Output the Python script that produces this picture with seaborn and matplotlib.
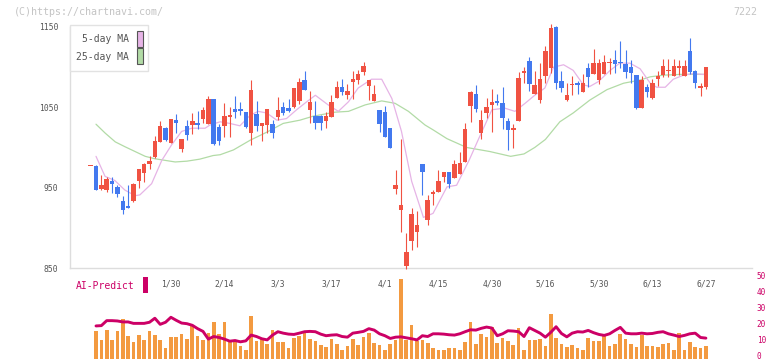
import numpy as np
import matplotlib
matplotlib.use("Agg")
import matplotlib.pyplot as plt
import matplotlib.transforms as mtransforms
import seaborn as sns
from matplotlib.patches import Rectangle

sns.set_style("white")
plt.rcParams["font.family"] = ["DejaVu Sans Mono"]

# daily candles; the first one is the lone red dash left of the first volume bar
opens = [977, 977.5, 948, 947, 958, 951, 933.5, 927.5, 934, 958, 968.5, 980, 988, 1007, 1024, 1006, 1034, 998.5, 1027, 1028.5,
         1030.5, 1035.5, 1029, 1060.4, 1025.5, 1027, 1038.5, 1048, 1048, 1044.2, 1018, 1041.7, 1027, 1028, 1029.3, 1038, 1050.4,
         1049.2, 1050.4, 1057.9, 1084, 1046.7, 1039.2, 1039.2, 1033, 1038, 1061.6, 1075.3, 1065.3, 1081.5, 1084, 1094, 1076.6,
         1057.9, 1046.7, 1044.2, 1024.3, 948.3, 922.2, 852.5, 883.6, 894.8, 979.5, 909.7, 942.5, 944.6, 963.3, 969.5, 962, 967,
         982.3, 1052, 1066.6, 1018.4, 1043.3, 1053.3, 1057.9, 1055.4, 1033, 1022.2, 1033.4, 1093, 1107.7, 1066.6, 1059.1, 1089,
         1099, 1150, 1082.8, 1059.1, 1077.8, 1080.3, 1069.5, 1099, 1091.5, 1084, 1091.5, 1104.6, 1109, 1106.4, 1103.9, 1100.2,
         1090.2, 1049.2, 1075.3, 1061.6, 1085.3, 1090.2, 1095.2, 1089, 1099.4, 1089, 1120.1, 1095.2, 1074.5, 1075.3]
highs = [977.5, 978, 966, 963, 963, 953, 939.5, 953, 956, 973, 981, 990, 1014, 1033, 1025, 1035.5, 1041.5, 1010, 1034, 1043,
         1045, 1051, 1064, 1060.4, 1029, 1055.4, 1050.8, 1064, 1056.6, 1044.2, 1084, 1057.9, 1030.5, 1048, 1034.3, 1062.9, 1056.6,
         1060.4, 1074, 1086.5, 1095.2, 1070.3, 1058, 1040.5, 1044.2, 1065.3, 1082.8, 1085.3, 1079, 1095.2, 1096.5, 1106.4, 1084,
         1077.8, 1046.7, 1051.7, 1024.3, 972, 1010.6, 893.6, 924.7, 921, 979.5, 940.9, 947, 972, 969.5, 969.5, 984.4, 994.4,
         1030.5, 1070.3, 1077.8, 1046.7, 1061.6, 1072.8, 1066.6, 1075.3, 1037, 1029.6, 1094.4, 1100.6, 1112.7, 1095.2, 1105.2, 1126.3,
         1153.7, 1151, 1095.6, 1079.9, 1089, 1082.8, 1091.5, 1105.2, 1122.6, 1110.2, 1115.1, 1111.4, 1121.4, 1132.6, 1121.4, 1108.9,
         1090.2, 1089, 1079, 1085.3, 1095.2, 1110.2, 1110.2, 1110.2, 1108.9, 1108.9, 1136.3, 1096.5, 1080.3, 1100.2]
lows = [976.5, 947, 947, 945, 943, 939, 917.5, 925, 932.5, 950, 957, 973, 987.5, 1006.5, 1008, 1006, 1018, 995, 1009, 1017,
        1023, 1030, 1029, 1003.5, 1003.5, 1013.4, 1012.6, 1036.7, 1040.5, 1024.3, 1003, 1020.5, 1008, 1018, 1011.8, 1034.3, 1040,
        1044.2, 1049.2, 1054.1, 1071.6, 1030.5, 1023, 1021.8, 1024.3, 1038, 1061.6, 1065.3, 1060.4, 1060.4, 1079, 1090.2, 1059.1,
        1057.9, 1019.3, 1013, 999.4, 942, 894.8, 848.8, 872.4, 876.1, 941, 903.5, 928.4, 944.6, 957, 950, 962, 967,
        982.3, 1032, 1044.6, 1011, 1037, 1019.7, 1052.9, 1023.4, 997.3, 999.7, 1033.4, 1080.3, 1070.3, 1066.6, 1055, 1080,
        1092.7, 1073.2, 1069.1, 1058.3, 1065.3, 1066.6, 1068.7, 1075.3, 1091.5, 1079, 1091.5, 1091.5, 1092.7, 1099, 1086.5, 1080.3,
        1048, 1049.2, 1062.9, 1060.4, 1076.6, 1087.8, 1087.8, 1089, 1090.2, 1089, 1091.5, 1074.1, 1064.1, 1072.8]
closes = [977, 947.5, 953, 961, 955, 942.5, 922.5, 925, 954.5, 973, 980, 983, 1008, 1027, 1009, 1035.5, 1031, 1010, 1015, 1033,
          1028.5, 1046.7, 1060.4, 1004.7, 1008, 1039.2, 1039.2, 1044.2, 1045.5, 1025.5, 1071.6, 1026.8, 1030.5, 1048, 1018, 1046.7,
          1043, 1045.5, 1074, 1081.5, 1071.6, 1056.6, 1030.5, 1030.5, 1039.2, 1056.6, 1075.3, 1069, 1070.3, 1085.3, 1091.5, 1101.5,
          1084, 1066.6, 1029.3, 1013, 999.4, 953.3, 928.4, 870, 917.2, 903.5, 969.5, 934.6, 945, 958.3, 969.5, 954.6, 979.5,
          980.7, 1023, 1069.5, 1048.3, 1034.3, 1050.4, 1056.6, 1055.4, 1037, 1022.2, 1024.6, 1086.5, 1094.5, 1079.4, 1077.8, 1085.3,
          1120.1, 1148.8, 1080.3, 1074.1, 1065.3, 1079.4, 1078.2, 1080.3, 1087.8, 1105.2, 1105.2, 1106.4, 1105.2, 1104.4, 1105.2,
          1094, 1092.7, 1049.2, 1084, 1069.1, 1080.3, 1089, 1101.5, 1096.5, 1101.5, 1100.6, 1101.5, 1094, 1080.3, 1076.6, 1100.2]

volume = [16.9, 11.8, 18.0, 11.8, 17.4, 24.8, 14.3, 10.5, 14.9, 11.8, 17.4, 14.9, 11.4, 6.8, 13.6, 13.6, 15.5, 12.4, 21.1, 14.3,
          11.8, 16.1, 22.5, 15.5, 22.9, 10.7, 10.5, 8.1, 5.6, 26.7, 11.2, 12.4, 9.3, 18.0, 10.1, 10.1, 6.8, 13.0, 14.3, 16.1,
          12.4, 11.2, 8.7, 7.4, 12.4, 9.1, 5.6, 8.1, 12.4, 8.7, 13.6, 16.1, 9.9, 8.7, 5.6, 9.3, 11.8, 49.6, 11.8, 21.1,
          11.2, 11.8, 9.9, 6.8, 5.6, 5.6, 6.8, 6.8, 5.6, 10.5, 22.9, 9.3, 15.5, 13.6, 19.8, 9.9, 13.0, 11.2, 8.7, 19.2,
          5.6, 11.8, 11.8, 12.4, 8.1, 27.9, 13.0, 9.3, 7.4, 8.7, 6.8, 5.0, 13.0, 11.2, 11.2, 14.3, 8.1, 9.3, 15.5, 12.4,
          9.3, 7.4, 14.9, 8.1, 8.1, 7.4, 9.3, 9.9, 5.6, 16.1, 5.0, 10.5, 7.4, 6.8, 8.1]
ai_predict = [20.3, 20.5, 23.6, 23.6, 23.4, 22.8, 22.8, 21.9, 21.9, 21.9, 22.6, 25.1, 21.3, 22.6, 25.7, 23.8, 22.1, 21.7, 20.7, 18.6,
              16.9, 12.1, 13.7, 13.1, 12.1, 10.8, 11.2, 10.4, 11.0, 14.6, 13.7, 12.3, 11.6, 14.6, 16.7, 15.8, 15.2, 15.0, 15.8, 16.7,
              16.9, 16.7, 15.2, 14.2, 14.6, 14.8, 13.7, 13.3, 15.8, 16.3, 16.9, 18.6, 17.7, 15.4, 14.2, 12.5, 13.3, 13.5, 12.9, 12.3,
              11.6, 14.2, 13.7, 15.4, 15.4, 15.2, 14.8, 14.6, 15.4, 16.7, 17.9, 17.7, 18.8, 19.6, 19.0, 14.2, 15.4, 17.3, 17.1, 16.7,
              13.7, 19.2, 17.5, 15.8, 13.3, 16.3, 19.8, 15.6, 13.5, 15.8, 16.7, 16.5, 17.5, 16.1, 15.0, 14.4, 15.4, 17.5, 19.4, 15.8,
              15.4, 15.4, 15.8, 15.4, 15.6, 16.3, 16.7, 15.4, 14.6, 13.7, 14.4, 15.4, 15.8, 13.1, 12.7]

ma5_day = [0, 1.7, 3.5, 5.4, 7.3, 8.2, 10.4, 12.3, 14.1, 16, 17.9, 20.4, 21.3, 23.2, 25, 26.9, 28.8, 30.3, 31.9, 33.8,
           35.6, 37.5, 39.4, 41, 43.4, 45.3, 47.2, 49, 51.5, 53.4, 55.3, 57.1, 59, 61.2, 63, 65.6, 67.4, 69.8, 71.6, 74,
           76.4, 78.3, 80.2, 82, 83.9, 85.5, 87.4, 89.2, 91.1, 92.3, 93.9, 96.1, 97.9, 99.8, 101.7, 103.6, 104.8, 106.4, 107.9, 109.8,
           111.6, 113.5, 114]
ma5 = [989, 964, 959, 947, 940, 941, 955, 984, 1003, 1020, 1024, 1024, 1028, 1032, 1030, 1027, 1040, 1045, 1043, 1034,
       1036, 1047, 1057, 1065, 1053, 1045, 1057, 1074, 1085, 1085, 1061, 1020, 958, 913, 918, 951, 953, 985, 1012, 1047,
       1049, 1045, 1055, 1065, 1074, 1100, 1103, 1096, 1078, 1076, 1082, 1096, 1105, 1105, 1098, 1080, 1075, 1075, 1085, 1090,
       1092, 1091, 1091]
ma25_day = [0, 1.7, 3.6, 5.4, 7.3, 9.2, 11, 12.9, 14.8, 17, 19.4, 21.9, 23.2, 25.7, 28.8, 31.9, 35, 38.1, 40.6, 44.7,
            47.2, 50.3, 53.4, 55.9, 58.4, 61.5, 63, 65.6, 69.3, 73.6, 77.5, 80, 82, 84, 86.7, 89.2, 92.3, 95.5, 98.6, 101.7,
            103.6, 106, 109.2, 112.3, 114]
ma25 = [1029, 1018, 1007, 1001, 995, 989, 986, 984, 982, 983, 985.5, 990, 991, 997, 1009, 1019, 1030, 1034, 1039, 1044,
        1045, 1053, 1058, 1055, 1045, 1028, 1022, 1011, 1000, 995, 989, 992, 1000, 1010, 1032, 1043, 1059, 1072, 1080, 1084,
        1088, 1090, 1091, 1091, 1091]

date_labels = ["1/30", "2/14", "3/3", "3/17", "4/1", "4/15", "4/30", "5/16", "5/30", "6/13", "6/27"]
date_days = [14, 24, 34, 44, 54, 64, 74, 84, 94, 104, 114]

RED = "#f05242"
BLUE = "#4379ef"
ORANGE = "#f39a40"
CRIMSON = "#cc0066"
PINK = "#e6b4e6"
GREEN = "#b2dba6"
AXIS = "#dddddd"
TXT = "#555555"

W, H = 772, 361
fig = plt.figure(figsize=(W / 100, H / 100), dpi=100)


def px_box(x0, y0, x1, y1):
    return [x0 / W, 1 - y1 / H, (x1 - x0) / W, (y1 - y0) / H]


# pixel x of the first session and pitch between sessions
X0, STEP = 96, 5.35
xlim = ((70 - X0) / STEP, (752 - X0) / STEP)

# ---- price panel
ax = fig.add_axes(px_box(70, 27, 752, 268))
days = np.arange(-1, len(opens) - 1)
o = np.array(opens)
c = np.array(closes)
colors = np.where(c >= o, RED, BLUE)
ax.vlines(days, lows, highs, colors=colors, linewidth=0.8, zorder=3, clip_on=False)
ax.bar(days, np.maximum(np.abs(c - o), 1.8), bottom=np.minimum(o, c), width=0.84,
       color=colors, linewidth=0, zorder=4, clip_on=False)

sns.lineplot(x=ma25_day, y=ma25, ax=ax, color=GREEN, linewidth=0.9, zorder=2, legend=False)
sns.lineplot(x=ma5_day, y=ma5, ax=ax, color=PINK, linewidth=0.9, zorder=2, legend=False)

ax.set_xlim(*xlim)
ax.set_ylim(850, 1150)
ax.set_yticks([850, 950, 1050, 1150])
ax.set_yticklabels(["850", "950", "1050", "1150"], fontsize=5.8, color=TXT)
ax.tick_params(axis="y", length=4, width=1, color=AXIS, pad=4.5)
ax.set_xticks(date_days)
ax.set_xticklabels(date_labels, fontsize=5.8, color=TXT)
ax.tick_params(axis="x", which="major", length=0, pad=8.5)
ax.set_xticks([(70 + 62 * j - X0) / STEP for j in range(1, 12)], minor=True)
ax.tick_params(axis="x", which="minor", direction="inout", length=5, width=1, color=AXIS)
for side in ["top", "right"]:
    ax.spines[side].set_visible(False)
for side in ["left", "bottom"]:
    ax.spines[side].set_color(AXIS)
    ax.spines[side].set_linewidth(1)
ax.set_xlabel("")
ax.set_ylabel("")

# ---- volume / AI panel
ax2 = fig.add_axes(px_box(70, 278.3, 752, 358.5))
vdays = np.arange(len(volume))
ax2.bar(vdays, volume, width=0.68, color=ORANGE, linewidth=0, zorder=2, clip_on=False)
sns.lineplot(x=vdays, y=ai_predict, ax=ax2, color=CRIMSON, linewidth=2.1, zorder=3, legend=False)
ax2.set_xlim(*xlim)
ax2.set_ylim(0, 50)
ax2.set_xticks([])
ax2.yaxis.tick_right()
ax2.set_yticks([0, 10, 20, 30, 40, 50])
ax2.set_yticklabels(["0", "10", "20", "30", "40", "50"], fontsize=5.6, color=CRIMSON)
ax2.tick_params(axis="y", length=0, pad=3.5)
# lift the right-hand labels a touch so the "0" stays inside the picture
lift = mtransforms.ScaledTranslation(0, 2.2 / 72, fig.dpi_scale_trans)
for lab in ax2.get_yticklabels():
    lab.set_transform(lab.get_transform() + lift)
for s in ax2.spines.values():
    s.set_visible(False)
ax2.patch.set_alpha(0)
ax2.set_xlabel("")
ax2.set_ylabel("")

# ---- legend box
tf = fig.transFigure
fig.add_artist(Rectangle((70 / W, 1 - 71 / H), 78 / W, 46 / H, transform=tf,
                         facecolor="white", edgecolor="#e2e2e2", linewidth=1, zorder=5))
fig.text(129 / W, 1 - 39 / H, "5-day MA", ha="right", va="center", fontsize=7, color=TXT, zorder=6)
fig.text(129 / W, 1 - 57 / H, "25-day MA", ha="right", va="center", fontsize=7, color=TXT, zorder=6)
fig.add_artist(Rectangle((136.5 / W, 1 - 46.5 / H), 6 / W, 15 / H, transform=tf,
                         facecolor=PINK, edgecolor="#555555", linewidth=0.8, zorder=6))
fig.add_artist(Rectangle((136.5 / W, 1 - 63.5 / H), 6 / W, 15 / H, transform=tf,
                         facecolor=GREEN, edgecolor="#555555", linewidth=0.8, zorder=6))

# ---- AI-Predict label
fig.text(76 / W, 1 - 286 / H, "AI-Predict", ha="left", va="center", fontsize=7, color=CRIMSON)
fig.add_artist(Rectangle((143 / W, 1 - 293 / H), 5 / W, 16 / H, transform=tf,
                         facecolor=CRIMSON, edgecolor="none"))

# ---- watermark and code
fig.text(14 / W, 1 - 12 / H, "(C)https://chartnavi.com/", ha="left", va="center", fontsize=7.2, color="#c4c4c4")
fig.text(757 / W, 1 - 12 / H, "7222", ha="right", va="center", fontsize=7.2, color="#c4c4c4")

fig.savefig("out.png", dpi=100)
